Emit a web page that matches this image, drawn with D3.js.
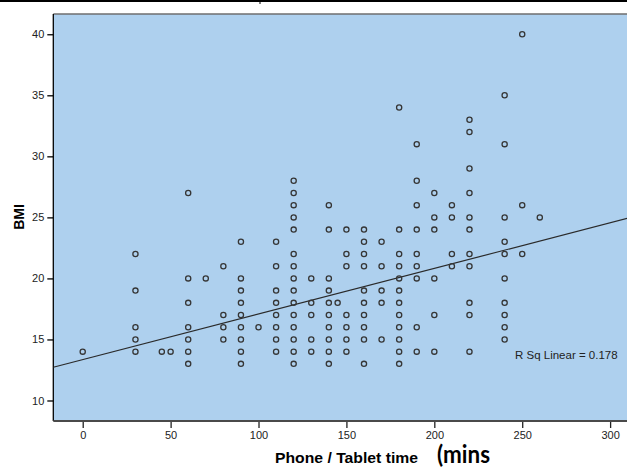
<!DOCTYPE html>
<html>
<head>
<meta charset="utf-8">
<script src="https://cdn.jsdelivr.net/npm/d3@7"></script>
<style>
  html, body { margin: 0; padding: 0; background: #ffffff; }
  svg { display: block; }
</style>
</head>
<body>
<svg id="chart" width="627" height="467"></svg>
<script>
// ---- Data ----
const timeValues = [0, 30, 45, 50, 60, 70, 80, 90, 100, 110, 120, 130, 140, 145, 150, 160, 170, 180, 190, 200, 210, 220, 240, 250, 260];
const bmiByTime = [
  [14],
  [22, 19, 16, 15, 14],
  [14],
  [14],
  [27, 20, 18, 16, 15, 14, 13],
  [20],
  [21, 17, 16, 15],
  [23, 20, 19, 18, 17, 16, 15, 14, 13],
  [16],
  [23, 21, 19, 18, 17, 16, 15, 14],
  [28, 27, 26, 25, 24, 22, 21, 20, 19, 18, 17, 16, 15, 14, 13],
  [20, 18, 17, 15, 14],
  [26, 24, 20, 19, 18, 17, 16, 15, 14, 13],
  [18],
  [24, 22, 21, 17, 16, 15, 14],
  [24, 23, 22, 21, 19, 18, 17, 16, 15, 13],
  [23, 21, 19, 18, 15],
  [34, 24, 22, 21, 20, 19, 18, 17, 16, 15, 14, 13],
  [31, 28, 26, 24, 22, 21, 20, 16, 14],
  [27, 25, 24, 20, 17, 14],
  [26, 25, 22, 21],
  [33, 32, 29, 27, 25, 24, 22, 21, 18, 17, 14],
  [35, 31, 25, 23, 22, 20, 18, 17, 16, 15],
  [40, 26, 22],
  [25]
];
const xTicks = [0, 50, 100, 150, 200, 250, 300];
const yTicks = [10, 15, 20, 25, 30, 35, 40];
const fitIntercept = 13.345;
const fitSlope = 0.03738;
const rSqLabel = "R Sq Linear = 0.178";
const xTitle = "Phone / Tablet time";
const xTitleExtra = "(mins";
const yTitle = "BMI";

// ---- Build points ----
const points = [];
timeValues.forEach((t, i) => bmiByTime[i].forEach(b => points.push({ t, b })));

const svg = d3.select("#chart");
const W = 627, H = 467;
const plot = { left: 53.3, right: 640, top: 14, bottom: 421 };

const x = d3.scaleLinear().domain([-16.73, 317]).range([plot.left, plot.right]);
const y = d3.scaleLinear().domain([8.32, 41.66]).range([plot.bottom, plot.top]);

// top frame line
svg.append("line").attr("x1", 0).attr("x2", W).attr("y1", 1).attr("y2", 1)
  .attr("stroke", "#000").attr("stroke-width", 2);
svg.append("line").attr("x1", 260).attr("x2", 260).attr("y1", 0).attr("y2", 4)
  .attr("stroke", "#000").attr("stroke-width", 1);

// plot background
svg.append("rect")
  .attr("x", plot.left).attr("y", plot.top)
  .attr("width", plot.right - plot.left).attr("height", plot.bottom - plot.top)
  .attr("fill", "#aed0ee");

svg.append("defs").append("clipPath").attr("id", "clip")
  .append("rect")
  .attr("x", plot.left).attr("y", plot.top)
  .attr("width", plot.right - plot.left).attr("height", plot.bottom - plot.top);

// borders
svg.append("line").attr("x1", plot.left).attr("x2", plot.right).attr("y1", plot.top).attr("y2", plot.top)
  .attr("stroke", "#6e6e6e").attr("stroke-width", 1.5);

// axes
const yAxis = d3.axisLeft(y).tickValues(yTicks).tickSize(6).tickPadding(3);
const gy = svg.append("g").attr("transform", `translate(${plot.left},0)`).call(yAxis);
gy.select(".domain").remove();
gy.selectAll(".tick line").attr("stroke", "#000").attr("stroke-width", 1.3);
gy.selectAll(".tick text").attr("font-family", "Liberation Sans, Arial, sans-serif")
  .attr("font-size", 11).attr("fill", "#222");

const xAxis = d3.axisBottom(x).tickValues(xTicks).tickSize(7).tickPadding(3);
const gx = svg.append("g").attr("transform", `translate(0,${plot.bottom})`).call(xAxis);
gx.select(".domain").remove();
gx.selectAll(".tick line").attr("stroke", "#222").attr("stroke-width", 1.3);
gx.selectAll(".tick text").attr("font-family", "Liberation Sans, Arial, sans-serif")
  .attr("font-size", 11).attr("fill", "#222");

svg.append("line").attr("x1", plot.left).attr("x2", plot.left).attr("y1", plot.top).attr("y2", plot.bottom)
  .attr("stroke", "#000").attr("stroke-width", 1.3);
svg.append("line").attr("x1", plot.left).attr("x2", plot.right).attr("y1", plot.bottom).attr("y2", plot.bottom)
  .attr("stroke", "#4a4a4a").attr("stroke-width", 2);

// regression line
const xd = x.domain();
svg.append("line")
  .attr("clip-path", "url(#clip)")
  .attr("x1", x(xd[0])).attr("y1", y(fitIntercept + fitSlope * xd[0]))
  .attr("x2", x(xd[1])).attr("y2", y(fitIntercept + fitSlope * xd[1]))
  .attr("stroke", "#2a2a2a").attr("stroke-width", 1.2);

// points
svg.append("g").attr("clip-path", "url(#clip)")
  .selectAll("circle").data(points).join("circle")
  .attr("cx", d => x(d.t)).attr("cy", d => y(d.b))
  .attr("r", 2.6)
  .attr("fill", "none")
  .attr("stroke", "#363636")
  .attr("stroke-width", 1.3);

// R squared label
svg.append("text").attr("x", 515).attr("y", 359)
  .attr("font-family", "Liberation Sans, Arial, sans-serif").attr("font-size", 11.5)
  .attr("fill", "#222").text(rSqLabel);

// axis titles
svg.append("text").attr("x", 275).attr("y", 462.5)
  .attr("font-family", "Liberation Sans, Arial, sans-serif").attr("font-weight", "bold")
  .attr("font-size", 14).attr("fill", "#000")
  .attr("textLength", 143).attr("lengthAdjust", "spacingAndGlyphs")
  .text(xTitle);
svg.append("text").attr("x", 437).attr("y", 463)
  .attr("font-family", "Lato, 'Open Sans', sans-serif").attr("font-weight", "bold")
  .attr("font-size", 24).attr("fill", "#000")
  .attr("textLength", 53).attr("lengthAdjust", "spacingAndGlyphs")
  .text(xTitleExtra);
svg.append("text")
  .attr("transform", "translate(24,217) rotate(-90)")
  .attr("text-anchor", "middle")
  .attr("font-family", "Liberation Sans, Arial, sans-serif").attr("font-weight", "bold")
  .attr("font-size", 14).attr("fill", "#000")
  .text(yTitle);
</script>
</body>
</html>
